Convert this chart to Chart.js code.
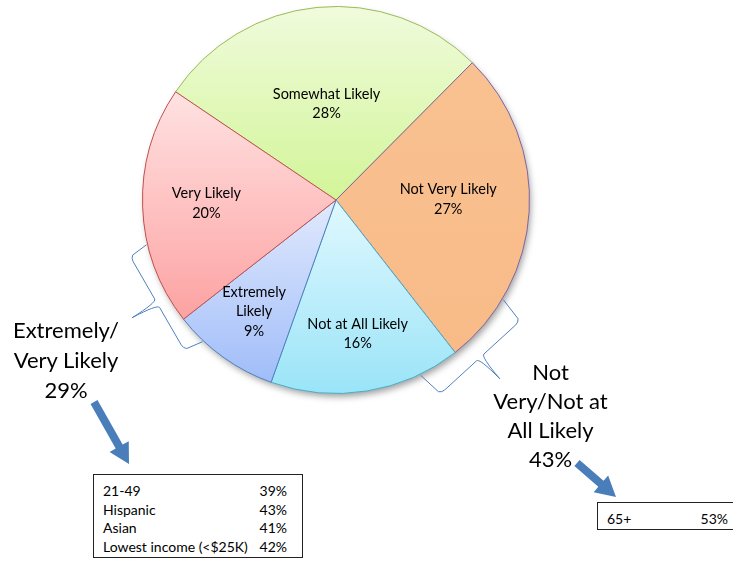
<!DOCTYPE html>
<html>
<head>
<meta charset="utf-8">
<script src="https://cdn.jsdelivr.net/npm/chart.js@4.4.1/dist/chart.umd.min.js"></script>
<style>
  html, body { margin: 0; padding: 0; background: #fff; }
  body { width: 733px; height: 564px; position: relative; overflow: hidden; font-family: Lato, "Open Sans", sans-serif; color: #000; }
  #pie { position: absolute; left: 0; top: 0; }
  .big { position: absolute; text-align: center; font-size: 22px; line-height: 29px; }
  .box { position: absolute; border: 1px solid #222; box-sizing: border-box; font-size: 14px; line-height: 18.7px; padding: 7px 15px 0 9px; background: #fff; }
  .row { display: flex; justify-content: space-between; white-space: nowrap; }
</style>
</head>
<body>
<canvas id="pie" width="733" height="564"></canvas>
<div class="big" id="leftLabel" style="left:0;top:315px;width:132px;line-height:30px"></div>
<div class="big" id="rightLabel" style="left:480px;top:357px;width:141px"></div>
<div class="box" id="leftBox" style="left:93px;top:474px;width:210px;height:84px"></div>
<div class="box" id="rightBox" style="left:597px;top:502px;width:142px;height:28px;padding-right:10px"></div>
<script>
// pie slices, clockwise from upper left
const categories = ['Somewhat Likely', 'Not Very Likely', 'Not at All Likely', 'Extremely Likely', 'Very Likely'];
const shares = [28, 27, 16, 9, 20];

// subgroup call-outs
const likelyGroups = ['21-49', 'Hispanic', 'Asian', 'Lowest income (<$25K)'];
const likelyShares = [39, 43, 41, 42];
const unlikelyGroups = ['65+'];
const unlikelyShares = [53];

const ROTATION = -56;
const topColors = ['#f0fbdc', '#f9c191', '#e0f8fe', '#e1e9fd', '#ffe2e2'];
const bottomColors = ['#d2f598', '#f8bb88', '#9ae4f8', '#a0bdf9', '#fda2a2'];
const edgeColors = ['#9bbb59', '#8064a2', '#4bacc6', '#4f81bd', '#c0504d'];

// combined totals for the big labels
const likelySum = shares[3] + shares[4];
const unlikelySum = shares[1] + shares[2];
document.getElementById('leftLabel').innerHTML = 'Extremely/<br>Very Likely<br>' + likelySum + '%';
document.getElementById('rightLabel').innerHTML = 'Not<br>Very/Not at<br>All Likely<br>' + unlikelySum + '%';

function fillBox(id, names, vals) {
  const box = document.getElementById(id);
  names.forEach((n, i) => {
    const row = document.createElement('div');
    row.className = 'row';
    const a = document.createElement('span');
    a.textContent = n;
    const b = document.createElement('span');
    b.textContent = vals[i] + '%';
    row.appendChild(a);
    row.appendChild(b);
    box.appendChild(row);
  });
}
fillBox('leftBox', likelyGroups, likelyShares);
fillBox('rightBox', unlikelyGroups, unlikelyShares);

// vertical gradient spanning each slice's own height
function sliceGradient(context) {
  const i = context.dataIndex;
  const chart = context.chart;
  const area = chart.chartArea;
  if (!area) return topColors[i];
  const cy = (area.top + area.bottom) / 2;
  const r = Math.min(area.width, area.height) / 2;
  const total = shares.reduce((a, b) => a + b, 0);
  let start = ROTATION;
  for (let k = 0; k < i; k++) start += shares[k] / total * 360;
  const end = start + shares[i] / total * 360;
  const rad = Math.PI / 180;
  const ys = [cy, cy - r * Math.cos(start * rad), cy - r * Math.cos(end * rad)];
  for (let a = Math.ceil(start / 180) * 180; a <= end; a += 180) ys.push(cy - r * Math.cos(a * rad));
  const g = chart.ctx.createLinearGradient(0, Math.min(...ys), 0, Math.max(...ys));
  g.addColorStop(0, topColors[i]);
  g.addColorStop(1, bottomColors[i]);
  return g;
}

// soft drop shadow under the pie
const pieShadow = {
  id: 'pieShadow',
  beforeDatasetsDraw(chart) {
    const arc = chart.getDatasetMeta(0).data[0];
    if (!arc) return;
    const ctx = chart.ctx;
    ctx.save();
    ctx.shadowColor = 'rgba(0,0,0,0.4)';
    ctx.shadowBlur = 7;
    ctx.shadowOffsetX = 2;
    ctx.shadowOffsetY = 4;
    ctx.fillStyle = '#fff';
    ctx.beginPath();
    ctx.arc(arc.x, arc.y, arc.outerRadius - 1, 0, Math.PI * 2);
    ctx.fill();
    ctx.restore();
  }
};

// category name + percent inside each slice
const sliceLabels = {
  id: 'sliceLabels',
  afterDatasetsDraw(chart, args, opts) {
    const ctx = chart.ctx;
    const arcs = chart.getDatasetMeta(0).data;
    ctx.save();
    ctx.font = '14.5px Lato';
    ctx.fillStyle = '#000';
    ctx.textAlign = 'center';
    ctx.textBaseline = 'middle';
    arcs.forEach((arc, i) => {
      const mid = (arc.startAngle + arc.endAngle) / 2 + opts.angleShift[i] * Math.PI / 180;
      const rr = arc.outerRadius * opts.radius[i];
      const x = arc.x + Math.cos(mid) * rr;
      const y = arc.y + Math.sin(mid) * rr;
      const lines = opts.wrap[i] ? categories[i].split(' ') : [categories[i]];
      lines.push(shares[i] + '%');
      lines.forEach((t, j) => ctx.fillText(t, x, y + (j - (lines.length - 1) / 2) * 19.5));
    });
    ctx.restore();
  }
};

// curly braces and arrows
function drawBrace(ctx, cx, cy, r, deg, b) {
  const p = deg * Math.PI / 180;
  const rx = Math.sin(p), ry = -Math.cos(p);
  const tx = Math.cos(p), ty = Math.sin(p);
  const pt = (u, v) => [cx + (r + v) * rx + u * tx, cy + (r + v) * ry + u * ty];
  const W = b.half, H = b.hook;
  ctx.beginPath();
  ctx.moveTo(...pt(H, b.hookV));
  ctx.lineTo(...pt(W + 2, b.backV - 3));
  ctx.quadraticCurveTo(...pt(W, b.backV), ...pt(W - 4, b.backV));
  ctx.lineTo(...pt(5, b.backV));
  ctx.quadraticCurveTo(...pt(1, b.backV), ...pt(0, b.tipV));
  ctx.quadraticCurveTo(...pt(-1, b.backV), ...pt(-5, b.backV));
  ctx.lineTo(...pt(-(W - 4), b.backV));
  ctx.quadraticCurveTo(...pt(-W, b.backV), ...pt(-(W + 2), b.backV - 3));
  ctx.lineTo(...pt(-H, b.hookV));
  ctx.stroke();
}

function drawArrow(ctx, x0, y0, x1, y1) {
  const len = Math.hypot(x1 - x0, y1 - y0);
  const ux = (x1 - x0) / len, uy = (y1 - y0) / len;
  const nx = -uy, ny = ux;
  const shaft = 4, head = 11, headLen = 20;
  const bx = x1 - ux * headLen, by = y1 - uy * headLen;
  ctx.beginPath();
  ctx.moveTo(x0 + nx * shaft, y0 + ny * shaft);
  ctx.lineTo(bx + nx * shaft, by + ny * shaft);
  ctx.lineTo(bx + nx * head, by + ny * head);
  ctx.lineTo(x1, y1);
  ctx.lineTo(bx - nx * head, by - ny * head);
  ctx.lineTo(bx - nx * shaft, by - ny * shaft);
  ctx.lineTo(x0 - nx * shaft, y0 - ny * shaft);
  ctx.closePath();
  ctx.fill();
}

const callouts = {
  id: 'callouts',
  afterDraw(chart) {
    const arc = chart.getDatasetMeta(0).data[0];
    if (!arc) return;
    const ctx = chart.ctx;
    ctx.save();
    ctx.strokeStyle = '#4f81bd';
    ctx.lineWidth = 1;
    drawBrace(ctx, arc.x, arc.y, arc.outerRadius, 240, { half: 52, hook: 56, hookV: -7, backV: 13, tipV: 42 });
    drawBrace(ctx, arc.x, arc.y, arc.outerRadius, 137.5, { half: 52, hook: 56, hookV: -7, backV: 20, tipV: 49 });
    ctx.fillStyle = '#4a7ebb';
    drawArrow(ctx, 94, 402, 129, 464);
    drawArrow(ctx, 577, 463, 616, 497);
    ctx.restore();
  }
};

const ctx = document.getElementById('pie').getContext('2d');
const pieChart = new Chart(ctx, {
  type: 'pie',
  data: {
    labels: categories,
    datasets: [{
      data: shares,
      backgroundColor: sliceGradient,
      borderColor: edgeColors,
      borderWidth: 1
    }]
  },
  options: {
    responsive: false,
    animation: false,
    devicePixelRatio: 1,
    rotation: ROTATION,
    layout: { padding: { left: 142, top: 6, right: 203, bottom: 170 } },
    plugins: {
      legend: { display: false },
      tooltip: { enabled: false },
      sliceLabels: {
        radius: [0.5, 0.58, 0.7, 0.715, 0.67],
        angleShift: [0, -3.7, 0, 0.5, 0.5],
        wrap: [false, false, false, true, false]
      }
    }
  },
  plugins: [pieShadow, sliceLabels, callouts]
});
</script>
</body>
</html>
